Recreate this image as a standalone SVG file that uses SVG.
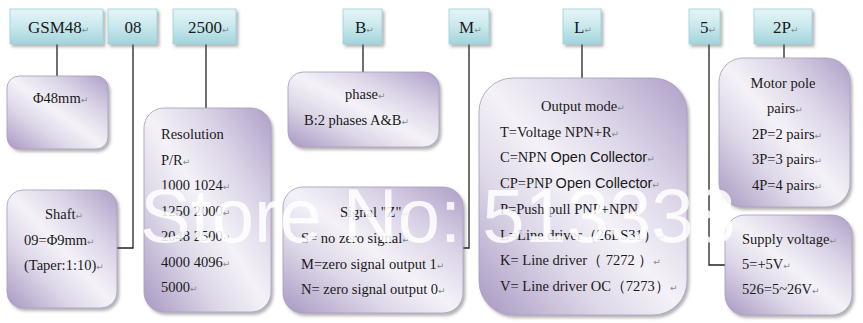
<svg xmlns="http://www.w3.org/2000/svg" width="863" height="323" viewBox="0 0 863 323">
<defs>
<linearGradient id="cy" x1="0" y1="0" x2="0" y2="1">
<stop offset="0" stop-color="#e6f5f7"/><stop offset="0.5" stop-color="#c8e8ed"/><stop offset="1" stop-color="#a3d4dc"/>
</linearGradient>
<linearGradient id="pu" x1="0" y1="1" x2="1" y2="0">
<stop offset="0" stop-color="#a898c2"/><stop offset="0.3" stop-color="#ddd7e8"/><stop offset="0.5" stop-color="#f4f2f8"/><stop offset="0.72" stop-color="#dbd4e7"/><stop offset="1" stop-color="#ae9fc8"/>
</linearGradient>
<filter id="sh" x="-10%" y="-10%" width="125%" height="125%">
<feDropShadow dx="2" dy="2.5" stdDeviation="1.5" flood-color="#555" flood-opacity="0.45"/>
</filter>
</defs>
<style>
.top{fill:url(#cy);stroke:#9ccfd8;stroke-width:0.8;filter:url(#sh)}
.box{fill:url(#pu);stroke:#a89cbc;stroke-width:0.8;filter:url(#sh)}
.t{font-family:"Liberation Serif","Times New Roman",serif;font-size:14.5px;fill:#1a1a1a}
.h{font-family:"Liberation Serif","Times New Roman",serif;font-size:17px;fill:#1a1a1a}
.s{font-family:"Liberation Sans",Arial,sans-serif}
.r{font-family:"DejaVu Sans",sans-serif;font-size:9px;fill:#8a8a8a}
.c{stroke:#222;stroke-width:1.3;fill:none}
.m{text-anchor:middle}
.wm{font-family:"Liberation Sans",Arial,sans-serif;font-size:76px;fill:#fff;fill-opacity:0.85}
</style>
<rect width="863" height="323" fill="#fff"/>

<g id="connectors">
<path class="c" d="M57 44V76"/>
<path class="c" d="M133 44V248H116"/>
<path class="c" d="M206 44V108"/>
<path class="c" d="M363 44V72"/>
<path class="c" d="M469 44V248H463"/>
<path class="c" d="M582 44V78"/>
<path class="c" d="M709 44V265H725"/>
<path class="c" d="M784 44V58"/>
</g>

<g id="n-gsm48"><rect class="top" x="10" y="9" width="93" height="35"/><text class="h" x="28" y="33">GSM48<tspan class="r">↵</tspan></text></g>
<g id="n-08"><rect class="top" x="108" y="9" width="49" height="35"/><text class="h m" x="133" y="33">08</text></g>
<g id="n-2500"><rect class="top" x="173" y="9" width="63" height="35"/><text class="h" x="188" y="33">2500<tspan class="r">↵</tspan></text></g>
<g id="n-b"><rect class="top" x="343" y="9" width="39" height="35"/><text class="h" x="355" y="33">B<tspan class="r">↵</tspan></text></g>
<g id="n-m"><rect class="top" x="449" y="9" width="40" height="35"/><text class="h" x="459" y="33">M<tspan class="r">↵</tspan></text></g>
<g id="n-l"><rect class="top" x="563" y="9" width="38" height="35"/><text class="h" x="574" y="33">L<tspan class="r">↵</tspan></text></g>
<g id="n-5"><rect class="top" x="689" y="9" width="31" height="35"/><text class="h" x="700" y="33">5<tspan class="r">↵</tspan></text></g>
<g id="n-2p"><rect class="top" x="754" y="9" width="58" height="35"/><text class="h" x="773" y="33">2P<tspan class="r">↵</tspan></text></g>

<g id="n-dia"><rect class="box" x="7" y="76" width="101" height="73" rx="12"/><text class="t" x="33" y="103">Φ48mm<tspan class="r">↵</tspan></text></g>

<g id="n-shaft"><rect class="box" x="7" y="190" width="110" height="118" rx="16"/>
<text class="t" x="45" y="219">Shaft<tspan class="r">↵</tspan></text>
<text class="t" x="24" y="245">09=Φ9mm<tspan class="r">↵</tspan></text>
<text class="t" x="24" y="270">(Taper:1:10)<tspan class="r">↵</tspan></text></g>

<g id="n-res"><rect class="box" x="144" y="108" width="127" height="204" rx="20"/>
<text class="t" x="161" y="139">Resolution</text>
<text class="t" x="161" y="164.5">P/R<tspan class="r">↵</tspan></text>
<text class="t" x="161" y="190">1000 1024<tspan class="r">↵</tspan></text>
<text class="t" x="161" y="215.5">1250 2000<tspan class="r">↵</tspan></text>
<text class="t" x="161" y="241">2048 2500<tspan class="r">↵</tspan></text>
<text class="t" x="161" y="266.5">4000 4096<tspan class="r">↵</tspan></text>
<text class="t" x="161" y="292">5000<tspan class="r">↵</tspan></text></g>

<g id="n-phase"><rect class="box" x="288" y="72" width="151" height="75" rx="15"/>
<text class="t" x="345" y="99">phase<tspan class="r">↵</tspan></text>
<text class="t" x="304" y="125">B:2 phases A&amp;B<tspan class="r">↵</tspan></text></g>

<g id="n-signal"><rect class="box" x="283" y="187" width="180" height="126" rx="20"/>
<text class="t" x="340" y="217">Signal "Z"<tspan class="r">↵</tspan></text>
<text class="t" x="301" y="243">S= no zero signal<tspan class="r">↵</tspan></text>
<text class="t" x="301" y="268.5">M=zero signal output 1<tspan class="r">↵</tspan></text>
<text class="t" x="301" y="294">N= zero signal output 0<tspan class="r">↵</tspan></text></g>

<g id="n-output"><rect class="box" x="479" y="78" width="208" height="237" rx="34"/>
<text class="t" x="541" y="111">Output mode<tspan class="r">↵</tspan></text>
<text class="t" x="500" y="136.7">T=Voltage NPN+R<tspan class="r">↵</tspan></text>
<text class="t" x="500" y="162.4">C=NPN <tspan class="s">Open Collector</tspan><tspan class="r">↵</tspan></text>
<text class="t" x="500" y="188">CP=PNP <tspan class="s">Open Collector</tspan><tspan class="r">↵</tspan></text>
<text class="t" x="500" y="213.8">P=Push pull PNP+NPN</text>
<text class="t" x="500" y="239.5">L=Line driver（26LS31）<tspan class="r">↵</tspan></text>
<text class="t" x="500" y="265.2">K= Line driver（ 7272 ）<tspan class="r">↵</tspan></text>
<text class="t" x="500" y="291">V= Line driver OC（7273）<tspan class="r">↵</tspan></text></g>

<g id="n-pole"><rect class="box" x="719" y="58" width="131" height="149" rx="24"/>
<text class="t m" x="783" y="88">Motor pole</text>
<text class="t" x="767" y="113">pairs<tspan class="r">↵</tspan></text>
<text class="t" x="752" y="138.5">2P=2 pairs<tspan class="r">↵</tspan></text>
<text class="t" x="752" y="164">3P=3 pairs<tspan class="r">↵</tspan></text>
<text class="t" x="752" y="189.5">4P=4 pairs<tspan class="r">↵</tspan></text></g>

<g id="n-supply"><rect class="box" x="725" y="215" width="127" height="100" rx="20"/>
<text class="t" x="742" y="244">Supply voltage<tspan class="r">↵</tspan></text>
<text class="t" x="742" y="269">5=+5V<tspan class="r">↵</tspan></text>
<text class="t" x="742" y="294">526=5~26V<tspan class="r">↵</tspan></text></g>

<text class="wm" x="140" y="242">Store No: 513338</text>
</svg>
